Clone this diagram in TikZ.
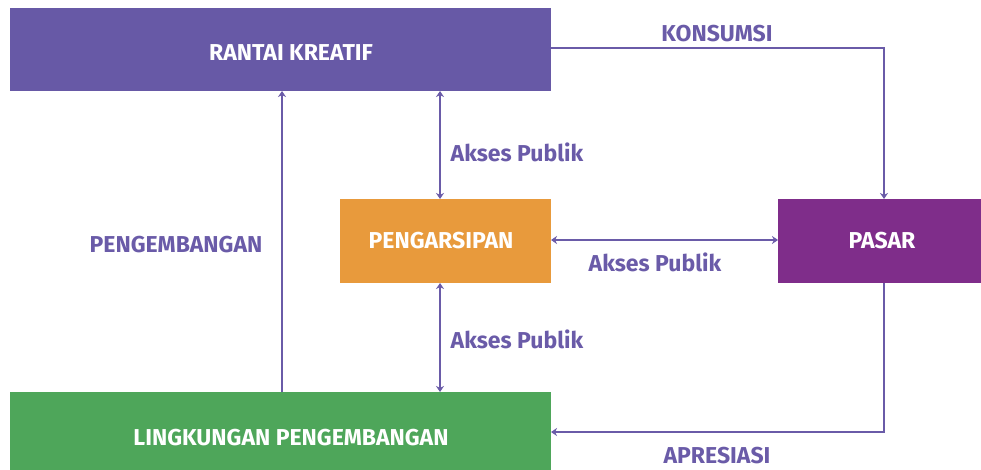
\documentclass[tikz,border=0pt]{standalone}
\usepackage{fontspec}
\setmainfont{Fira Sans}
\usetikzlibrary{arrows.meta}
\definecolor{linec}{HTML}{6A5BA8}
\definecolor{rantai}{HTML}{6759A6}
\definecolor{arsip}{HTML}{E89A3C}
\definecolor{pasar}{HTML}{7F2D8A}
\definecolor{lingk}{HTML}{4EA65A}
\tikzset{
  box/.style={draw=none, inner sep=0pt, text=white, font=\bfseries\fontsize{23}{26}\selectfont},
  lbl/.style={text=linec, inner sep=0pt, font=\bfseries\fontsize{23}{26}\selectfont},
  conn/.style={draw=linec, line width=1.5pt},
  tip/.style={-{Stealth[length=6pt,width=8pt,inset=2pt]}},
  dtip/.style={{Stealth[length=6pt,width=8pt,inset=2pt]}-{Stealth[length=6pt,width=8pt,inset=2pt]}}
}
\begin{document}
\begin{tikzpicture}[x=1pt,y=-1pt]
\useasboundingbox (0,0) rectangle (981,470);
% boxes
\fill[rantai] (10,8) rectangle (551,91);
\node[box] (rk) at (291,53) {RANTAI KREATIF};
\coordinate (rkR) at (551,48);
\coordinate (rkB1) at (282,91);
\coordinate (rkB2) at (440,91);

\fill[arsip] (340,199) rectangle (551,283);
\node[box] (ar) at (441,241) {PENGARSIPAN};
\coordinate (arT) at (440,199);
\coordinate (arB) at (440,283);
\coordinate (arR) at (551,240);

\fill[pasar] (778,199) rectangle (981,283);
\node[box] (ps) at (882,241) {PASAR};
\coordinate (psT) at (884,199);
\coordinate (psB) at (884,283);
\coordinate (psL) at (778,240);

\fill[lingk] (10,392) rectangle (551,470);
\node[box] (lk) at (291,438) {LINGKUNGAN PENGEMBANGAN};
\coordinate (lkT1) at (282,392);
\coordinate (lkT2) at (440,392);
\coordinate (lkR) at (551,432);

% connectors
\draw[conn,tip] (rkR) -| (psT);
\draw[conn,tip] (psB) |- (lkR);
\draw[conn,tip] (lkT1) -- (rkB1);
\draw[conn,dtip] (rkB2) -- (arT);
\draw[conn,dtip] (arB) -- (lkT2);
\draw[conn,dtip] (arR) -- (psL);

% labels
\node[lbl] (kons) at (717,34) {KONSUMSI};
\node[lbl] (apr) at (717,456) {APRESIASI};
\node[lbl] (peng) at (176,245) {PENGEMBANGAN};
\node[lbl] (ak1) at (517,152) {Akses Publik};
\node[lbl] (ak2) at (655,262) {Akses Publik};
\node[lbl] (ak3) at (517,339) {Akses Publik};
\end{tikzpicture}
\end{document}
